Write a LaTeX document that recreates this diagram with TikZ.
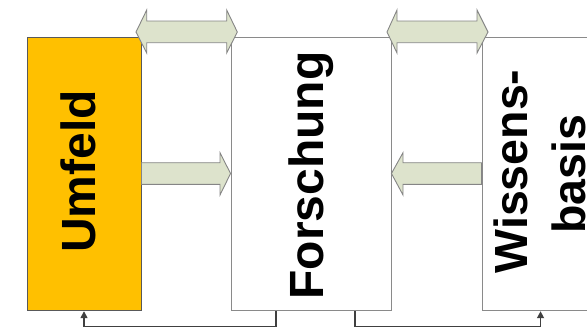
\documentclass[tikz,border=0pt]{standalone}
\usepackage{fontspec}
\setmainfont{Liberation Sans}
\usetikzlibrary{calc,arrows.meta}
\definecolor{umorange}{HTML}{FFC000}
\definecolor{arrowfill}{HTML}{DDE3CC}
\definecolor{arrowline}{HTML}{858585}
\definecolor{boxline}{HTML}{8A8A8A}
\definecolor{connline}{HTML}{404040}
\tikzset{
  boxnode/.style={draw=boxline, line width=0.9pt, fill=white, minimum height=273.5pt, inner sep=0pt},
  umbox/.style={boxnode, fill=umorange, draw=black!65},
  blockarrow/.style={fill=arrowfill, draw=arrowline, line width=0.9pt, line join=miter},
  bigtext/.style={font=\fontsize{48}{58}\selectfont\bfseries, rotate=90, anchor=base, inner sep=0pt, text=black, align=center},
  midtext/.style={bigtext, font=\fontsize{46.5}{57}\selectfont\bfseries},
  conn/.style={draw=connline, line width=1.4pt, -{Triangle[length=7pt,width=7pt]}}
}
\begin{document}
\begin{tikzpicture}[x=1pt,y=-1pt]
\useasboundingbox (0,0) rectangle (587,333);
\clip (0,0) rectangle (587,333);
% boxes
\node[umbox, minimum width=114pt] (umfeld) at (84,174) {};
\node[boxnode, minimum width=160pt] (forschung) at (311,174) {};
\node[boxnode, minimum width=160pt] (wissen) at (562,174) {};
% texts
\node[bigtext] (tumfeld) at (95.5,171.5) {Umfeld};
\node[bigtext] (tforschung) at (323.5,175.5) {Forschung};
\node[midtext] (twissens) at (527,171.5) {Wissens-};
\node[midtext] (tbasis) at (585,174.5) {basis};
% block arrows
\draw[blockarrow] (136,32) -- (146.7,10) -- (146.7,21) -- (226.7,21) -- (226.7,10) -- (237.3,32) -- (226.7,53) -- (226.7,42.7) -- (146.7,42.7) -- (146.7,53) -- cycle;
\draw[blockarrow] (387,32) -- (397,10) -- (397,21) -- (477,21) -- (477,10) -- (488,32) -- (477,53) -- (477,42.7) -- (397,42.7) -- (397,53) -- cycle;
\draw[blockarrow] (umfeld.east |- 0,162.7) -- (220,162.7) -- (220,152.7) -- (forschung.west |- 0,173.5) -- (220,195) -- (220,184.3) -- (umfeld.east |- 0,184.3) -- cycle;
\draw[blockarrow] (wissen.west |- 0,162.7) -- (403,162.7) -- (403,152.7) -- (forschung.east |- 0,173.5) -- (403,195) -- (403,184.3) -- (wissen.west |- 0,184.3) -- cycle;
% feedback connectors
\coordinate (fl) at ([xshift=-35pt]forschung.south);
\coordinate (fr) at ([xshift=44pt]forschung.south);
\coordinate (wb) at ([xshift=59pt]wissen.south west);
\draw[conn] (fl) -- ++(0,15.5) -| (umfeld.south);
\draw[conn] (fr) -- ++(0,15.5) -| (wb);
\end{tikzpicture}
\end{document}
